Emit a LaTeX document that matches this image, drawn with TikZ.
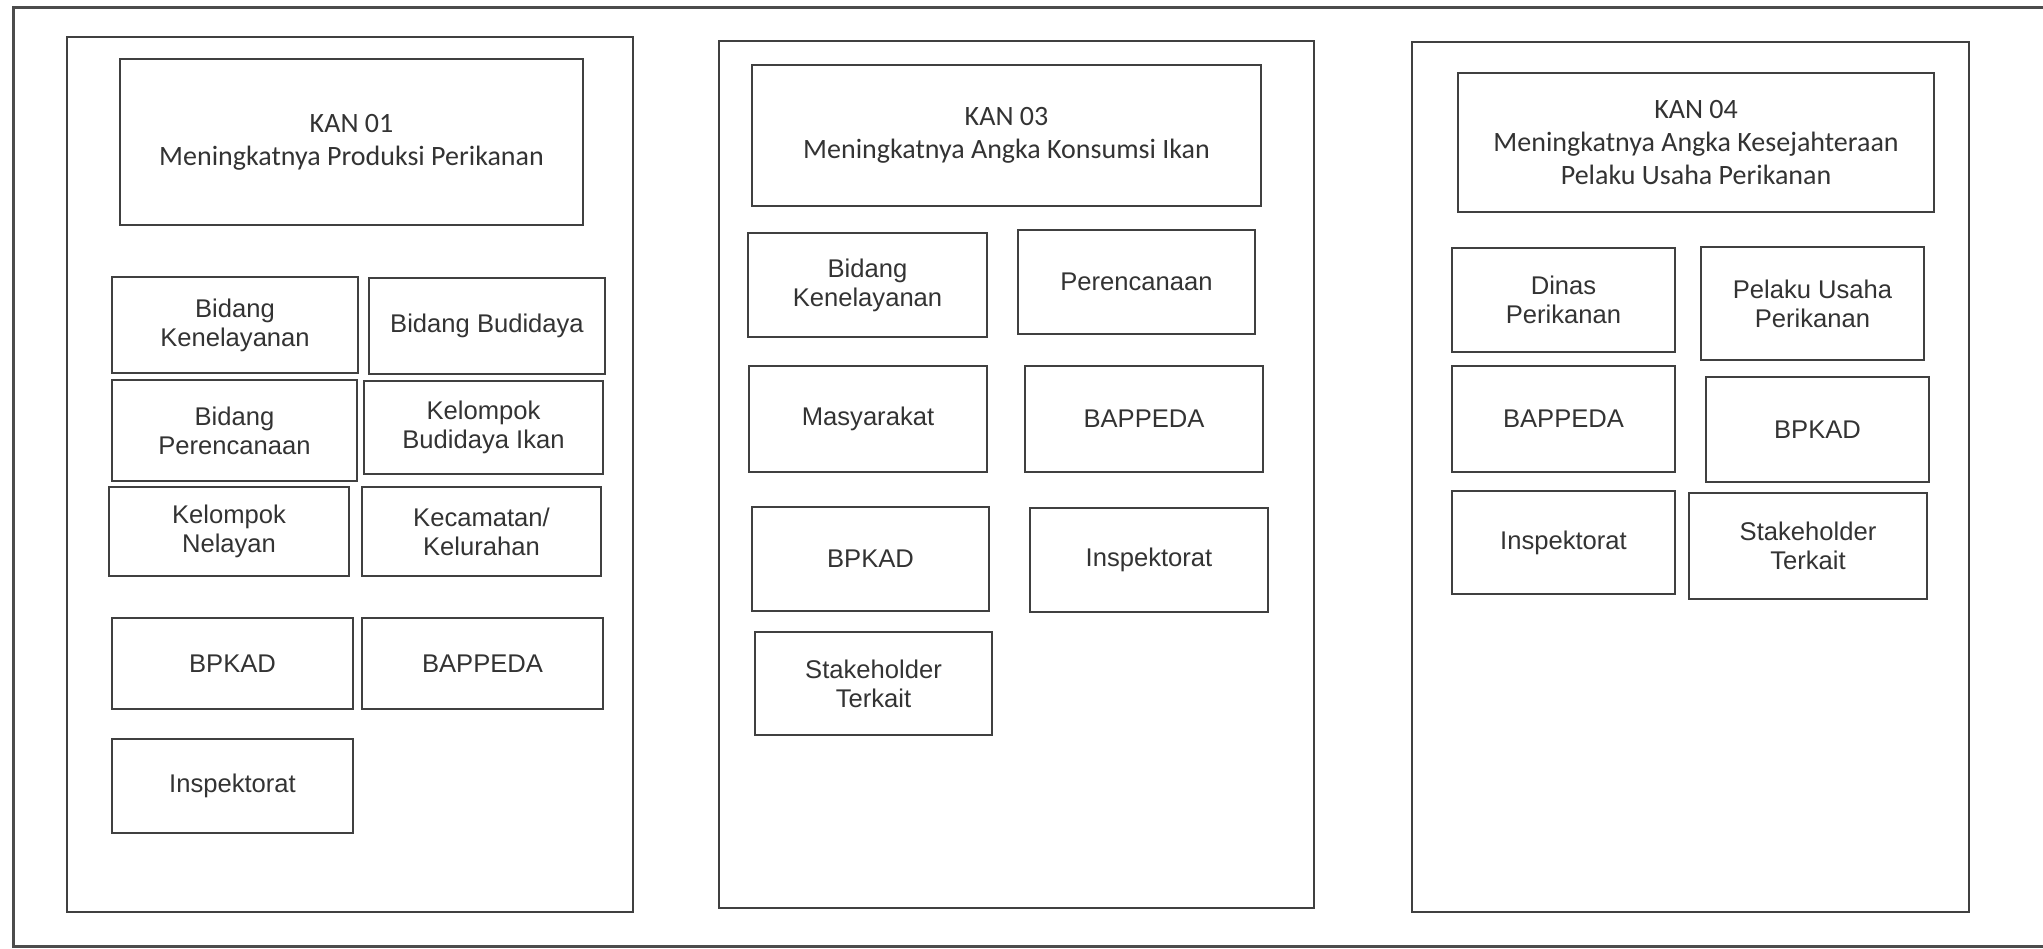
\documentclass[tikz,border=0pt]{standalone}
\usepackage{fontspec}
\setmainfont{Liberation Sans}
\newfontfamily\kanfont{Carlito}
\usepackage{tikz}
\tikzset{every picture/.style={line width=1pt}}
\tikzset{
  wh/.style 2 args={minimum width={0.5pt*#1}, minimum height={0.5pt*#2}},
  unitbox/.style={draw=black!75, rectangle, inner sep=0pt, align=center, text=black!80,
    font=\fontsize{12.8}{14.5}\selectfont},
  kanbox/.style={draw=black!75, rectangle, inner sep=0pt, align=center, text=black!80,
    font=\kanfont\fontsize{14}{16.5}\selectfont},
  panel/.style={draw=black!75, rectangle, inner sep=0pt}
}

\begin{document}
\begin{tikzpicture}[x=0.5pt,y=0.5pt,yscale=-1,xscale=1]
\useasboundingbox (0,0) rectangle (2043,948);

%Outer frame (open on the right)
\draw [color=black!70, line width=1.5pt] (2043,7) -- (13,7) -- (13,946) -- (2043,946) ;

%Panel: KAN 01
\node [panel, wh={566}{875}] (panA) at (350,474.5) {};
% Text Node
\node [kanbox, wh={463}{166}] (kanA) at (351.5,142) {KAN 01\\Meningkatnya Produksi Perikanan};
\node [unitbox, wh={246}{96}] (kenA) at (235,325) {Bidang\\Kenelayanan};
\node [unitbox, wh={236}{96}] (budA) at (487,326) {Bidang Budidaya};
\node [unitbox, wh={245}{101}] (perA) at (234.5,430.5) {Bidang\\Perencanaan};
\node [unitbox, wh={239}{93}] (kbiA) at (483.5,427.5) {Kelompok\\Budidaya Ikan};
\node [unitbox, wh={240}{89}] (nelA) at (229,531.5) {Kelompok\\Nelayan};
\node [unitbox, wh={239}{89}] (kecA) at (481.5,531.5) {Kecamatan/\\Kelurahan};
\node [unitbox, wh={241}{91}] (bpkA) at (232.5,663.5) {BPKAD};
\node [unitbox, wh={241}{91}] (bapA) at (482.5,663.5) {BAPPEDA};
\node [unitbox, wh={241}{94}] (insA) at (232.5,786) {Inspektorat};

%Panel: KAN 03
\node [panel, wh={595}{867}] (panB) at (1016.5,474.5) {};
% Text Node
\node [kanbox, wh={509}{141}] (kanB) at (1006.5,135.5) {KAN 03\\Meningkatnya Angka Konsumsi Ikan};
\node [unitbox, wh={239}{104}] (kenB) at (867.5,285) {Bidang\\Kenelayanan};
\node [unitbox, wh={237}{104}] (perB) at (1136.5,282) {Perencanaan};
\node [unitbox, wh={238}{106}] (masB) at (868,419) {Masyarakat};
\node [unitbox, wh={238}{106}] (bapB) at (1144,419) {BAPPEDA};
\node [unitbox, wh={237}{104}] (bpkB) at (870.5,559) {BPKAD};
\node [unitbox, wh={238}{104}] (insB) at (1149,560) {Inspektorat};
\node [unitbox, wh={237}{103}] (stkB) at (873.5,683.5) {Stakeholder\\Terkait};

%Panel: KAN 04
\node [panel, wh={557}{870}] (panC) at (1690.5,477) {};
% Text Node
\node [kanbox, wh={476}{139}] (kanC) at (1696,142.5) {KAN 04\\Meningkatnya Angka Kesejahteraan\\Pelaku Usaha Perikanan};
\node [unitbox, wh={223}{104}] (dinC) at (1563.5,300) {Dinas\\Perikanan};
\node [unitbox, wh={223}{113}] (pelC) at (1812.5,303.5) {Pelaku Usaha\\Perikanan};
\node [unitbox, wh={223}{106}] (bapC) at (1563.5,419) {BAPPEDA};
\node [unitbox, wh={223}{105}] (bpkC) at (1817.5,429.5) {BPKAD};
\node [unitbox, wh={223}{103}] (insC) at (1563.5,542.5) {Inspektorat};
\node [unitbox, wh={238}{106}] (stkC) at (1808,546) {Stakeholder\\Terkait};

\end{tikzpicture}
\end{document}
